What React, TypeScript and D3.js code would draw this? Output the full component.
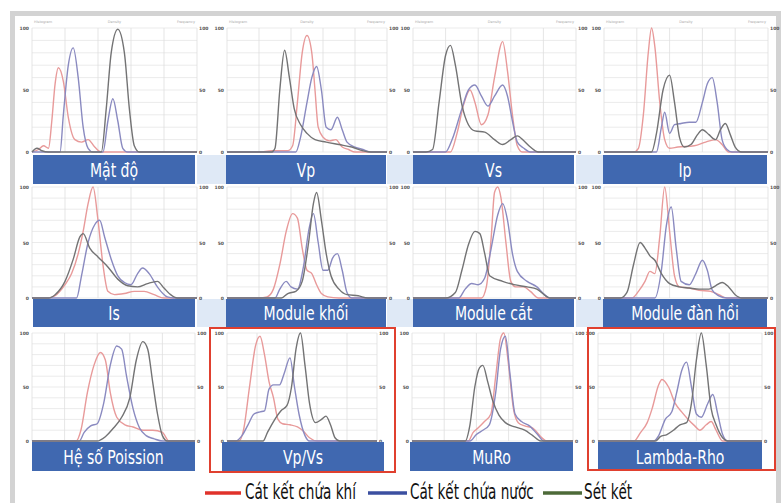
import React from "react";
import * as d3 from "d3";

type Pt = [number, number];

const panelTitles = [
  "Mật độ", "Vp", "Vs", "Ip",
  "Is", "Module khối", "Module cắt", "Module đàn hồi",
  "Hệ số Poission", "Vp/Vs", "MuRo", "Lambda-Rho",
];

const legendLabels = ["Cát kết chứa khí", "Cát kết chứa nước", "Sét kết"];

// Cát kết chứa khí (gas sand)
const gasSand: Pt[][] = [
  [[0,0],[4,2],[7,5],[10,3],[12,25],[14,55],[16,68],[19,57],[22,28],[26,10],[30,8],[34,10],[38,4],[42,0],[100,0]],
  [[0,0],[20,0],[28,1],[38,1],[41,5],[44,40],[47,80],[50,94],[53,80],[55,50],[57,20],[60,12],[64,9],[68,10],[72,4],[76,2],[80,0],[100,0]],
  [[0,0],[23,0],[27,15],[31,38],[35,50],[38,40],[42,22],[46,30],[50,60],[55,89],[58,65],[61,30],[64,5],[67,0],[100,0]],
  [[0,0],[18,0],[21,3],[24,30],[27,80],[29,100],[31,85],[34,40],[37,10],[40,3],[45,4],[55,5],[62,8],[68,10],[72,6],[76,0],[100,0]],
  [[0,0],[10,0],[14,2],[20,12],[24,22],[28,40],[31,60],[34,85],[37,100],[40,70],[43,30],[46,6],[50,3],[56,4],[62,6],[68,6],[74,3],[80,0],[100,0]],
  [[0,0],[20,0],[25,1],[29,8],[33,30],[37,60],[41,76],[44,72],[47,45],[50,25],[53,22],[56,12],[59,4],[63,1],[70,0],[100,0]],
  [[0,0],[42,0],[45,10],[48,55],[50,95],[52,100],[54,90],[57,50],[60,15],[63,10],[68,10],[72,6],[77,0],[100,0]],
  [[0,0],[17,0],[21,6],[25,15],[28,24],[31,22],[34,55],[37,100],[40,60],[43,20],[46,10],[52,9],[58,7],[65,6],[70,3],[75,0],[100,0]],
  [[0,0],[27,0],[30,10],[34,45],[38,70],[42,82],[45,75],[48,45],[52,22],[57,15],[62,13],[68,10],[74,10],[80,8],[84,0],[100,0]],
  [[0,0],[8,0],[11,10],[15,50],[19,88],[22,97],[25,80],[28,55],[31,40],[34,20],[37,16],[42,15],[47,13],[51,9],[55,3],[60,0],[100,0]],
  [[0,0],[35,0],[38,8],[41,12],[45,18],[49,25],[52,60],[55,95],[57,100],[60,70],[63,30],[66,17],[70,14],[75,12],[80,4],[84,0],[100,0]],
  [[0,0],[22,0],[26,8],[30,17],[33,30],[37,52],[39,57],[43,50],[47,35],[51,27],[55,20],[59,14],[62,10],[66,15],[69,18],[72,10],[76,0],[100,0]],
];

// Cát kết chứa nước (water sand)
const waterSand: Pt[][] = [
  [[0,0],[17,0],[19,30],[22,70],[25,84],[28,60],[31,20],[34,3],[37,0],[43,0],[46,25],[49,43],[52,25],[55,3],[58,0],[100,0]],
  [[0,0],[43,0],[46,12],[50,40],[53,60],[56,69],[59,50],[62,20],[65,18],[69,28],[72,18],[75,8],[80,4],[85,2],[90,0],[100,0]],
  [[0,0],[20,0],[24,10],[30,35],[34,50],[38,54],[42,45],[46,37],[50,45],[55,54],[58,45],[61,25],[64,8],[68,3],[72,0],[100,0]],
  [[0,0],[32,0],[35,20],[37,32],[40,15],[43,22],[47,23],[52,24],[56,24],[60,40],[63,55],[66,60],[69,40],[72,10],[75,2],[78,0],[100,0]],
  [[0,0],[27,0],[30,20],[34,50],[38,66],[41,70],[44,55],[48,35],[52,20],[56,14],[60,12],[64,22],[67,27],[71,22],[76,10],[82,1],[86,0],[100,0]],
  [[0,0],[30,0],[33,8],[37,15],[40,10],[44,8],[48,30],[51,60],[54,76],[57,50],[60,25],[63,25],[66,36],[69,40],[72,25],[75,5],[78,0],[100,0]],
  [[0,0],[28,0],[32,8],[36,13],[40,12],[44,18],[48,45],[52,75],[55,85],[58,70],[61,40],[64,24],[70,15],[76,10],[80,4],[84,0],[100,0]],
  [[0,0],[31,0],[35,25],[38,65],[41,82],[44,45],[47,15],[52,12],[56,22],[60,34],[63,25],[66,7],[70,2],[75,0],[100,0]],
  [[0,0],[29,0],[32,8],[36,14],[40,16],[44,35],[48,70],[52,88],[55,85],[58,60],[62,30],[66,12],[70,5],[75,2],[80,0],[100,0]],
  [[0,0],[6,0],[10,5],[14,15],[18,25],[22,27],[25,28],[28,48],[31,52],[35,52],[38,62],[42,77],[45,50],[48,25],[52,5],[55,0],[100,0]],
  [[0,0],[36,0],[40,6],[44,10],[48,15],[52,45],[55,85],[58,97],[61,60],[64,25],[68,18],[73,14],[78,6],[82,0],[100,0]],
  [[0,0],[34,0],[37,5],[41,20],[45,27],[48,45],[51,65],[54,73],[57,50],[60,25],[63,22],[67,35],[70,43],[73,25],[76,6],[79,0],[100,0]],
];

// Sét kết (shale)
const shale: Pt[][] = [
  [[0,0],[3,3],[6,1],[10,0],[42,0],[45,35],[48,80],[52,99],[56,80],[59,35],[62,5],[65,0],[100,0]],
  [[0,0],[28,0],[30,3],[33,50],[36,82],[39,60],[42,35],[46,22],[50,15],[55,10],[62,8],[70,6],[78,4],[85,1],[90,0],[100,0]],
  [[0,0],[8,0],[12,2],[16,40],[20,78],[23,86],[26,70],[30,38],[34,22],[38,17],[44,16],[50,10],[55,6],[60,10],[64,13],[68,9],[72,4],[77,0],[100,0]],
  [[0,0],[29,0],[32,15],[36,50],[40,62],[43,40],[46,12],[49,4],[53,6],[57,14],[60,18],[64,14],[68,10],[71,18],[74,23],[77,14],[80,4],[84,0],[100,0]],
  [[0,0],[10,0],[14,3],[20,15],[25,35],[29,55],[31,58],[35,45],[40,37],[46,28],[52,17],[58,11],[64,10],[70,13],[76,15],[80,9],[84,3],[88,0],[100,0]],
  [[0,0],[34,0],[38,4],[43,6],[47,15],[51,50],[54,85],[56,95],[59,70],[62,40],[65,20],[70,8],[75,3],[82,2],[88,0],[100,0]],
  [[0,0],[20,0],[26,5],[30,25],[34,48],[38,60],[41,58],[44,40],[47,20],[55,15],[62,12],[70,10],[76,8],[84,0],[100,0]],
  [[0,0],[10,0],[14,5],[18,30],[22,50],[25,45],[28,38],[31,34],[35,22],[40,13],[46,10],[52,9],[58,8],[64,8],[68,11],[72,14],[76,10],[80,3],[84,0],[100,0]],
  [[0,0],[40,0],[45,4],[50,12],[55,22],[60,40],[64,75],[68,92],[71,85],[74,55],[77,25],[80,5],[83,0],[100,0]],
  [[0,0],[24,0],[27,8],[31,18],[36,28],[40,33],[43,50],[46,85],[49,100],[52,70],[55,35],[59,17],[63,20],[66,23],[69,15],[72,3],[75,0],[100,0]],
  [[0,0],[33,0],[36,15],[39,50],[42,68],[44,70],[47,55],[50,38],[54,24],[58,17],[64,13],[70,10],[75,5],[80,0],[100,0]],
  [[0,0],[35,0],[38,4],[42,6],[46,10],[50,15],[54,17],[57,35],[60,75],[63,100],[66,70],[69,30],[72,15],[76,3],[79,0],[100,0]],
];

const axisTicks = ["0", "50", "100"];
const headerLabels = ["Histogram", "Density", "Frequency"];

const seriesColors = ["#e89a9a", "#8a8ac0", "#737374"];
const legendColors = ["#e0322b", "#3b4fa0", "#4d6a38"];

type Box = { x0: number; x1: number; y0: number; y1: number; lx0: number; lx1: number; ly0: number; ly1: number };

const rows = [
  { y0: 28, y1: 152, ly0: 155, ly1: 184 },
  { y0: 187, y1: 298, ly0: 299, ly1: 327 },
  { y0: 333, y1: 441, ly0: 442, ly1: 471 },
];
const colsTop = [
  { x0: 32, x1: 197, lx0: 33, lx1: 195 },
  { x0: 227, x1: 387, lx0: 226, lx1: 386 },
  { x0: 413, x1: 576, lx0: 413, lx1: 574 },
  { x0: 604, x1: 768, lx0: 603, lx1: 767 },
];
const colsBottom = [
  { x0: 32, x1: 195, lx0: 32, lx1: 195 },
  { x0: 227, x1: 377, lx0: 222, lx1: 384 },
  { x0: 412, x1: 573, lx0: 410, lx1: 573 },
  { x0: 598, x1: 762, lx0: 598, lx1: 762 },
];

function boxFor(i: number): Box {
  const r = Math.floor(i / 4);
  const c = i % 4;
  const col = r < 2 ? colsTop[c] : colsBottom[c];
  return { ...col, ...rows[r] };
}

const FONT = "'DejaVu Sans Condensed', 'Liberation Sans Narrow', 'Open Sans', sans-serif";

function Panel({ i }: { i: number }) {
  const b = boxFor(i);
  const x = d3.scaleLinear().domain([0, 100]).range([b.x0, b.x1]);
  const y = d3.scaleLinear().domain([0, 100]).range([b.y1, b.y0]);
  const line = d3.line<Pt>().x((d) => x(d[0])).y((d) => y(d[1])).curve(d3.curveMonotoneX);
  const vTicks = d3.range(0, 101, 20);
  const hTicks = d3.range(0, 101, 10);
  const series = [gasSand[i], waterSand[i], shale[i]];
  const cx = (b.lx0 + b.lx1) / 2;
  return (
    <g>
      <rect x={b.x0} y={b.y0} width={b.x1 - b.x0} height={b.y1 - b.y0} fill="#ffffff" />
      {hTicks.map((t) => (
        <line key={"h" + t} x1={b.x0} x2={b.x1} y1={y(t)} y2={y(t)} stroke="#e6e6e6" strokeWidth={0.8} />
      ))}
      {vTicks.map((t) => (
        <line key={"v" + t} x1={x(t)} x2={x(t)} y1={b.y0} y2={b.y1} stroke="#dedede" strokeWidth={0.8} />
      ))}
      {axisTicks.map((t, k) => (
        <g key={"t" + t}>
          <text x={b.x0 - 3} y={y(k * 50) + 2} fontSize={4.5} fontWeight="bold" fill="#555" textAnchor="end" fontFamily="DejaVu Sans">{t}</text>
          <text x={b.x1 + 2} y={y(k * 50) + 2} fontSize={4.5} fontWeight="bold" fill="#555" textAnchor="start" fontFamily="DejaVu Sans">{t}</text>
        </g>
      ))}
      {i < 4 &&
        headerLabels.map((h, k) => (
          <text
            key={h}
            x={k === 0 ? b.x0 + 2 : k === 1 ? (b.x0 + b.x1) / 2 : b.x1 - 2}
            y={b.y0 - 5}
            fontSize={3.5}
            fill="#aaa"
            textAnchor={k === 0 ? "start" : k === 1 ? "middle" : "end"}
            fontFamily="DejaVu Sans"
          >
            {h}
          </text>
        ))}
      {series.map((s, k) => (
        <path key={"s" + k} d={line(s) || ""} fill="none" stroke={seriesColors[k]} strokeWidth={1.4} strokeLinejoin="round" />
      ))}
      <rect x={b.lx0} y={b.ly0} width={b.lx1 - b.lx0} height={b.ly1 - b.ly0} fill="#4068b0" />
      <text
        transform={`translate(${cx},${(b.ly0 + b.ly1) / 2 + 7}) scale(0.78,1)`}
        fontSize={20}
        fill="#ffffff"
        textAnchor="middle"
        fontFamily={FONT}
      >
        {panelTitles[i]}
      </text>
    </g>
  );
}

export default function App() {
  const gaps = [
    [197, 226], [387, 413], [576, 603],
  ];
  const legendX = [
    { sx0: 205, sx1: 241, tx: 245 },
    { sx0: 368, sx1: 407, tx: 410 },
    { sx0: 543, sx1: 582, tx: 584 },
  ];
  return (
    <div style={{ position: "absolute", left: 0, top: 0 }}>
      <svg width={781} height={503} style={{ display: "block", background: "#ffffff" }}>
        <rect x={12.5} y={13.5} width={766} height={495} fill="#ffffff" stroke="#d3d3d3" strokeWidth={5} />
        {rows.slice(0, 2).map((r, ri) =>
          gaps.map((g, gi) => (
            <rect key={ri + "-" + gi} x={g[0]} y={r.ly0} width={g[1] - g[0]} height={r.ly1 - r.ly0} fill="#dfe9f6" />
          ))
        )}
        {panelTitles.map((_, i) => (
          <Panel key={i} i={i} />
        ))}
        <rect x={210} y={328} width={185} height={144} fill="none" stroke="#e0402f" strokeWidth={2} />
        <rect x={588} y={328} width={187} height={142} fill="none" stroke="#e0402f" strokeWidth={2} />
        {legendLabels.map((l, k) => (
          <g key={l}>
            <line x1={legendX[k].sx0} x2={legendX[k].sx1} y1={493} y2={493} stroke={legendColors[k]} strokeWidth={3.5} />
            <text transform={`translate(${legendX[k].tx},499) scale(0.72,1)`} fontSize={21} fill="#111" fontFamily={FONT}>{l}</text>
          </g>
        ))}
      </svg>
    </div>
  );
}
